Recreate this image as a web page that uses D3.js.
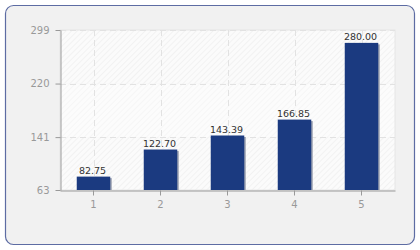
<!DOCTYPE html>
<html><head><meta charset="utf-8">
<script src="https://cdn.jsdelivr.net/npm/d3@7"></script>
<style>body{margin:0;background:#fff}svg{display:block}</style>
</head><body><svg id="c" width="420" height="250"></svg>
<script>
const categories = ["1","2","3","4","5"];
const values = [82.75, 122.70, 143.39, 166.85, 280.00];
const yTicks = [63, 141, 220, 299];

const svg = d3.select("#c");
const defs = svg.append("defs");
const pat = defs.append("pattern").attr("id","hatch").attr("patternUnits","userSpaceOnUse")
  .attr("width",4).attr("height",4).attr("patternTransform","rotate(45)");
pat.append("rect").attr("width",4).attr("height",4).attr("fill","#fbfbfb");
pat.append("line").attr("x1",0).attr("y1",0).attr("x2",0).attr("y2",4).attr("stroke","#ececec").attr("stroke-width",1.2);
const pat2 = defs.append("pattern").attr("id","hatch2").attr("patternUnits","userSpaceOnUse")
  .attr("width",4).attr("height",4).attr("patternTransform","rotate(45)");
pat2.append("rect").attr("width",4).attr("height",4).attr("fill","#fcfcfc");
pat2.append("line").attr("x1",0).attr("y1",0).attr("x2",0).attr("y2",4).attr("stroke","#f2f2f2").attr("stroke-width",1.2);

svg.append("rect").attr("x",5.5).attr("y",5.5).attr("width",409).attr("height",239)
  .attr("rx",8).attr("fill","#f1f1f1").attr("stroke","#5d6ca3").attr("stroke-width",1.2);

const m = {l:60, r:395, t:30, b:190};
const x = d3.scaleBand().domain(categories).range([m.l, m.r]).paddingInner(0).paddingOuter(0);
const y = d3.scaleLinear().domain([63, 299]).range([m.b, m.t]);

// background bands
for (let i=0;i<yTicks.length-1;i++){
  svg.append("rect").attr("x",m.l).attr("width",m.r-m.l)
    .attr("y",y(yTicks[i+1])).attr("height",y(yTicks[i])-y(yTicks[i+1]))
    .attr("fill", i%2===0 ? "url(#hatch)" : "url(#hatch2)");
}
svg.append("rect").attr("x",m.l).attr("y",m.t).attr("width",m.r-m.l).attr("height",m.b-m.t)
  .attr("fill","none").attr("stroke","#e6e6e6");

// grid
const g = svg.append("g");
g.selectAll(".hg").data(yTicks.slice(1)).join("line")
  .attr("x1",m.l).attr("x2",m.r).attr("y1",d=>Math.round(y(d))+0.5).attr("y2",d=>Math.round(y(d))+0.5)
  .attr("stroke","#e2e2e2").attr("stroke-dasharray","6,4");
g.selectAll(".vg").data(categories).join("line")
  .attr("y1",m.t).attr("y2",m.b).attr("x1",d=>Math.round(x(d)+x.bandwidth()/2)+0.5).attr("x2",d=>Math.round(x(d)+x.bandwidth()/2)+0.5)
  .attr("stroke","#e2e2e2").attr("stroke-dasharray","6,4");

// bars
const bw = x.bandwidth()*0.5;
svg.selectAll(".sh").data(values).join("rect")
  .attr("x",(d,i)=>x(categories[i])+x.bandwidth()/2-bw/2+1.5).attr("width",bw)
  .attr("y",d=>y(d)+1.5).attr("height",d=>y(63)-y(d)-1.5).attr("fill","#9aa0b0");
svg.selectAll(".bar").data(values).join("rect")
  .attr("x",(d,i)=>x(categories[i])+x.bandwidth()/2-bw/2).attr("width",bw)
  .attr("y",d=>y(d)).attr("height",d=>y(63)-y(d)).attr("fill","#1b3a80");
svg.selectAll(".lbl").data(values).join("text")
  .attr("x",(d,i)=>x(categories[i])+x.bandwidth()/2-1).attr("y",d=>y(d)-2.5)
  .attr("text-anchor","middle").attr("font-family","DejaVu Sans").attr("font-size",9.5)
  .attr("fill","#333").text(d=>d.toFixed(2));

// axes
const ya = svg.append("g").attr("transform",`translate(${m.l+0.5},0)`)
  .call(d3.axisLeft(y).tickValues(yTicks).tickSize(5).tickPadding(6).tickSizeOuter(0));
const xa = svg.append("g").attr("transform",`translate(0,${m.b+0.5})`)
  .call(d3.axisBottom(x).tickSize(5).tickPadding(5).tickSizeOuter(0));
[ya,xa].forEach(a=>{
  a.select(".domain").attr("stroke","#999");
  a.selectAll(".tick line").attr("stroke","#999");
  a.selectAll("text").attr("fill","#999").attr("font-family","DejaVu Sans").attr("font-size",10);
});
</script></body></html>
